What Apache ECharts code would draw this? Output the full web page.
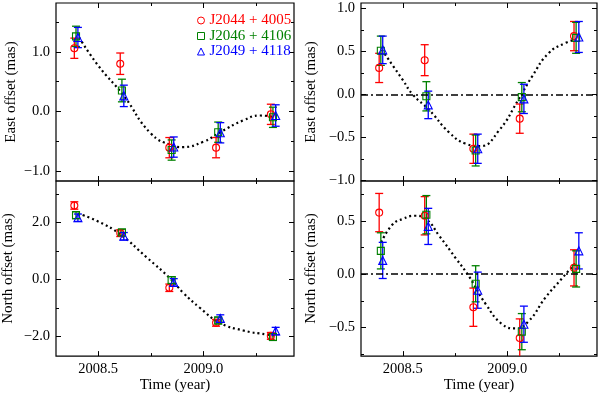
<!DOCTYPE html>
<html><head><meta charset="utf-8">
<script src="https://cdn.jsdelivr.net/npm/echarts@6/dist/echarts.min.js"></script>
<style>html,body{margin:0;padding:0;background:#fff}#c{width:600px;height:394px}</style>
</head><body><div id="c"></div>
<script>
// ---------------- data ----------------
const sourceNames = ['J2044 + 4005', 'J2046 + 4106', 'J2049 + 4118'];

const timeRed   = [2008.387, 2008.605, 2008.838, 2009.060, 2009.320];
const timeGreen = [2008.395, 2008.613, 2008.849, 2009.070, 2009.330];
const timeBlue  = [2008.404, 2008.622, 2008.859, 2009.080, 2009.343];

// East offset (mas), top-left
const eastRed      = [1.06, 0.80, -0.61, -0.61, -0.05];
const eastRedErr   = [0.17, 0.18, 0.17, 0.17, 0.17];
const eastGreen    = [1.26, 0.35, -0.65, -0.35, -0.10];
const eastGreenErr = [0.17, 0.19, 0.17, 0.17, 0.17];
const eastBlue     = [1.24, 0.26, -0.60, -0.36, -0.07];
const eastBlueErr  = [0.17, 0.18, 0.17, 0.17, 0.18];

// North offset (mas), bottom-left
const northRed      = [2.60, 1.63, -0.29, -1.52, -1.98];
const northRedErr   = [0.13, 0.12, 0.13, 0.12, 0.12];
const northGreen    = [2.26, 1.65, -0.02, -1.44, -2.02];
const northGreenErr = [0.12, 0.12, 0.12, 0.12, 0.12];
const northBlue     = [2.17, 1.52, -0.10, -1.37, -1.81];
const northBlueErr  = [0.13, 0.13, 0.13, 0.13, 0.13];

// East offset (mas), top-right (parallax only)
const eastResRed      = [0.31, 0.40, -0.63, -0.28, 0.68];
const eastResRedErr   = [0.17, 0.18, 0.17, 0.17, 0.17];
const eastResGreen    = [0.51, -0.02, -0.65, -0.03, 0.66];
const eastResGreenErr = [0.17, 0.17, 0.18, 0.17, 0.18];
const eastResBlue     = [0.52, -0.12, -0.63, -0.05, 0.67];
const eastResBlueErr  = [0.16, 0.16, 0.17, 0.17, 0.18];

// North offset (mas), bottom-right (parallax only)
const northResRed      = [0.58, 0.55, -0.31, -0.60, 0.06];
const northResRedErr   = [0.18, 0.18, 0.18, 0.18, 0.17];
const northResGreen    = [0.22, 0.56, -0.09, -0.54, 0.05];
const northResGreenErr = [0.17, 0.18, 0.17, 0.17, 0.17];
const northResBlue     = [0.13, 0.45, -0.15, -0.47, 0.22];
const northResBlueErr  = [0.17, 0.17, 0.17, 0.17, 0.17];

// model curves
const modelEastT  = [2008.41, 2008.50, 2008.62, 2008.75, 2008.85, 2008.90, 2009.00, 2009.08, 2009.19, 2009.27, 2009.34];
const modelEastV  = [1.24, 0.77, 0.27, -0.37, -0.57, -0.60, -0.51, -0.35, -0.15, -0.07, -0.10];
const modelNorthT = [2008.405, 2008.50, 2008.604, 2008.73, 2008.843, 2008.906, 2008.984, 2009.078, 2009.189, 2009.299, 2009.34];
const modelNorthV = [2.32, 2.04, 1.59, 0.78, 0.03, -0.48, -1.00, -1.52, -1.79, -1.93, -1.97];
const modelEastResT  = [2008.40, 2008.50, 2008.548, 2008.627, 2008.722, 2008.80, 2008.87, 2008.96, 2009.056, 2009.119, 2009.198, 2009.278, 2009.33];
const modelEastResV  = [0.52, 0.17, 0.00, -0.18, -0.44, -0.57, -0.60, -0.42, -0.05, 0.21, 0.48, 0.60, 0.64];
const modelNorthResT = [2008.397, 2008.452, 2008.50, 2008.556, 2008.61, 2008.675, 2008.754, 2008.817, 2008.897, 2008.976, 2009.04, 2009.103, 2009.183, 2009.262, 2009.333];
const modelNorthResV = [0.30, 0.47, 0.52, 0.55, 0.52, 0.36, 0.15, -0.02, -0.28, -0.47, -0.51, -0.44, -0.22, -0.04, 0.12];

// ticks
const xTickMajor = [2008.5, 2009.0];
const xTickMinor = [2008.75, 2009.25];
const eastTickMajor = [-1.0, 0.0, 1.0];
const eastTickMinor = [-0.5, 0.5, 1.5];
const northTickMajor = [-2.0, 0.0, 2.0];
const northTickMinor = [-1.0, 1.0, 3.0];
const eastResTickMajor = [-1.0, -0.5, 0.0, 0.5, 1.0];
const eastResTickMinor = [-0.75, -0.25, 0.25, 0.75];
const northResTickMajor = [-0.5, 0.0, 0.5];
const northResTickMinor = [-0.75, -0.25, 0.25, 0.75];

// ---------------- styling ----------------
const COLORS = ['#ff0000', '#008000', '#0000ff'];
const SYMBOLS = ['circle', 'rect', 'triangle'];
const SYMSIZE = [7, 7, 8];
const FONT = "'Liberation Serif', 'DejaVu Serif', serif";
const X_MIN = 2008.30, X_MAX = 2009.43;

const panels = [
  { grid: {left: 56, top: 3, width: 238, height: 178}, ymin: -1.17, ymax: 1.82,
    yMajor: eastTickMajor, yMinor: eastTickMinor, yName: 'East offset (mas)', nameGap: 37,
    vals: [eastRed, eastGreen, eastBlue], errs: [eastRedErr, eastGreenErr, eastBlueErr],
    mt: modelEastT, mv: modelEastV, zero: false, showX: false },
  { grid: {left: 56, top: 181, width: 238, height: 178}, ymin: -2.69, ymax: 3.46,
    yMajor: northTickMajor, yMinor: northTickMinor, yName: 'North offset (mas)', nameGap: 40,
    vals: [northRed, northGreen, northBlue], errs: [northRedErr, northGreenErr, northBlueErr],
    mt: modelNorthT, mv: modelNorthV, zero: false, showX: true },
  { grid: {left: 361, top: 3, width: 236, height: 178}, ymin: -1.005, ymax: 1.065,
    yMajor: eastResTickMajor, yMinor: eastResTickMinor, yName: 'East offset (mas)', nameGap: 42,
    vals: [eastResRed, eastResGreen, eastResBlue], errs: [eastResRedErr, eastResGreenErr, eastResBlueErr],
    mt: modelEastResT, mv: modelEastResV, zero: true, showX: false },
  { grid: {left: 361, top: 181, width: 236, height: 178}, ymin: -0.77, ymax: 0.877,
    yMajor: northResTickMajor, yMinor: northResTickMinor, yName: 'North offset (mas)', nameGap: 42,
    vals: [northResRed, northResGreen, northResBlue], errs: [northResRedErr, northResGreenErr, northResBlueErr],
    mt: modelNorthResT, mv: modelNorthResV, zero: true, showX: true }
];
const times = [timeRed, timeGreen, timeBlue];

const fmt = v => v.toFixed(1).replace('-', '\u2212');

const grids = [], xAxes = [], yAxes = [], series = [];

panels.forEach((p, gi) => {
  grids.push(Object.assign({show: true, borderColor: '#000', borderWidth: 1.2, backgroundColor: 'transparent'}, p.grid));
  const tick = (vals, len) => ({show: true, inside: true, length: len, customValues: vals, lineStyle: {color: '#000', width: 1}});
  const common = {type: 'value', gridIndex: gi, axisLine: {show: false, onZero: false}, splitLine: {show: false}};
  const xi = xAxes.length, yi = yAxes.length;
  // x axes
  xAxes.push(Object.assign({}, common, {
    min: X_MIN, max: X_MAX, position: 'bottom', axisTick: tick(xTickMajor, 5),
    axisLabel: p.showX ? {show: true, customValues: xTickMajor, formatter: fmt, margin: 6,
      fontFamily: FONT, fontSize: 14.5, color: '#000'} : {show: false},
    name: p.showX ? 'Time (year)' : '', nameLocation: 'middle', nameGap: 17,
    nameTextStyle: {fontFamily: FONT, fontSize: 15, color: '#000'}
  }));
  xAxes.push(Object.assign({}, common, {min: X_MIN, max: X_MAX, position: 'bottom', axisTick: tick(xTickMinor, 3), axisLabel: {show: false}}));
  xAxes.push(Object.assign({}, common, {min: X_MIN, max: X_MAX, position: 'top', axisTick: tick(xTickMajor, 5), axisLabel: {show: false}}));
  xAxes.push(Object.assign({}, common, {min: X_MIN, max: X_MAX, position: 'top', axisTick: tick(xTickMinor, 3), axisLabel: {show: false}}));
  // y axes
  yAxes.push(Object.assign({}, common, {
    min: p.ymin, max: p.ymax, position: 'left', axisTick: tick(p.yMajor, 5),
    axisLabel: {show: true, customValues: p.yMajor, formatter: fmt, margin: 6,
      fontFamily: FONT, fontSize: 14.5, color: '#000'},
    name: p.yName, nameLocation: 'middle', nameRotate: 90, nameGap: p.nameGap,
    nameTextStyle: {fontFamily: FONT, fontSize: 15, color: '#000'}
  }));
  yAxes.push(Object.assign({}, common, {min: p.ymin, max: p.ymax, position: 'left', axisTick: tick(p.yMinor, 3), axisLabel: {show: false}}));
  yAxes.push(Object.assign({}, common, {min: p.ymin, max: p.ymax, position: 'right', axisTick: tick(p.yMajor, 5), axisLabel: {show: false}}));
  yAxes.push(Object.assign({}, common, {min: p.ymin, max: p.ymax, position: 'right', axisTick: tick(p.yMinor, 3), axisLabel: {show: false}}));

  // model curve
  const curve = {
    type: 'line', xAxisIndex: xi, yAxisIndex: yi, symbol: 'none', smooth: 0.5,
    data: p.mt.map((t, k) => [t, p.mv[k]]), silent: true, z: 2,
    lineStyle: {color: '#000', width: 2.2, type: [2, 3]}
  };
  if (p.zero) {
    curve.markLine = {silent: true, symbol: ['none', 'none'], label: {show: false}, animation: false,
      data: [{yAxis: 0}], lineStyle: {color: '#000', width: 1.5, type: [7, 3, 2, 3]}};
  }
  series.push(curve);

  for (let s = 0; s < 3; s++) {
    const col = COLORS[s];
    series.push({
      type: 'custom', xAxisIndex: xi, yAxisIndex: yi, clip: true, silent: true, z: 3,
      data: times[s].map((t, k) => [t, p.vals[s][k], p.errs[s][k]]),
      encode: {x: 0, y: 1},
      renderItem: function (params, api) {
        const x = api.value(0), y = api.value(1), e = api.value(2);
        const a = api.coord([x, y + e]), b = api.coord([x, y - e]);
        const cw = 4;
        const st = {stroke: col, lineWidth: 1.3};
        return {type: 'group', children: [
          {type: 'line', shape: {x1: a[0], y1: a[1], x2: b[0], y2: b[1]}, style: st},
          {type: 'line', shape: {x1: a[0] - cw, y1: a[1], x2: a[0] + cw, y2: a[1]}, style: st},
          {type: 'line', shape: {x1: b[0] - cw, y1: b[1], x2: b[0] + cw, y2: b[1]}, style: st}
        ]};
      }
    });
    series.push({
      type: 'scatter', name: sourceNames[s], xAxisIndex: xi, yAxisIndex: yi, silent: true, z: 3,
      symbol: SYMBOLS[s], symbolSize: SYMSIZE[s],
      data: times[s].map((t, k) => [t, p.vals[s][k]]),
      itemStyle: {color: 'rgba(0,0,0,0)', borderColor: col, borderWidth: 1.1, opacity: 1}
    });
  }
});

const chart = echarts.init(document.getElementById('c'), null, {renderer: 'canvas'});
chart.setOption({
  animation: false,
  backgroundColor: '#fff',
  grid: grids, xAxis: xAxes, yAxis: yAxes, series: series,
  legend: {
    show: true, selectedMode: false, orient: 'vertical', left: 197, top: 13,
    itemWidth: 7, itemHeight: 7, itemGap: 0.5, padding: 0,
    textStyle: {fontFamily: FONT, fontSize: 15, lineHeight: 14},
    data: sourceNames.map((n, i) => ({
      name: n, icon: SYMBOLS[i],
      itemStyle: {color: 'rgba(0,0,0,0)', borderColor: COLORS[i], borderWidth: 1},
      textStyle: {color: COLORS[i]}
    }))
  }
});
</script>
</body></html>
